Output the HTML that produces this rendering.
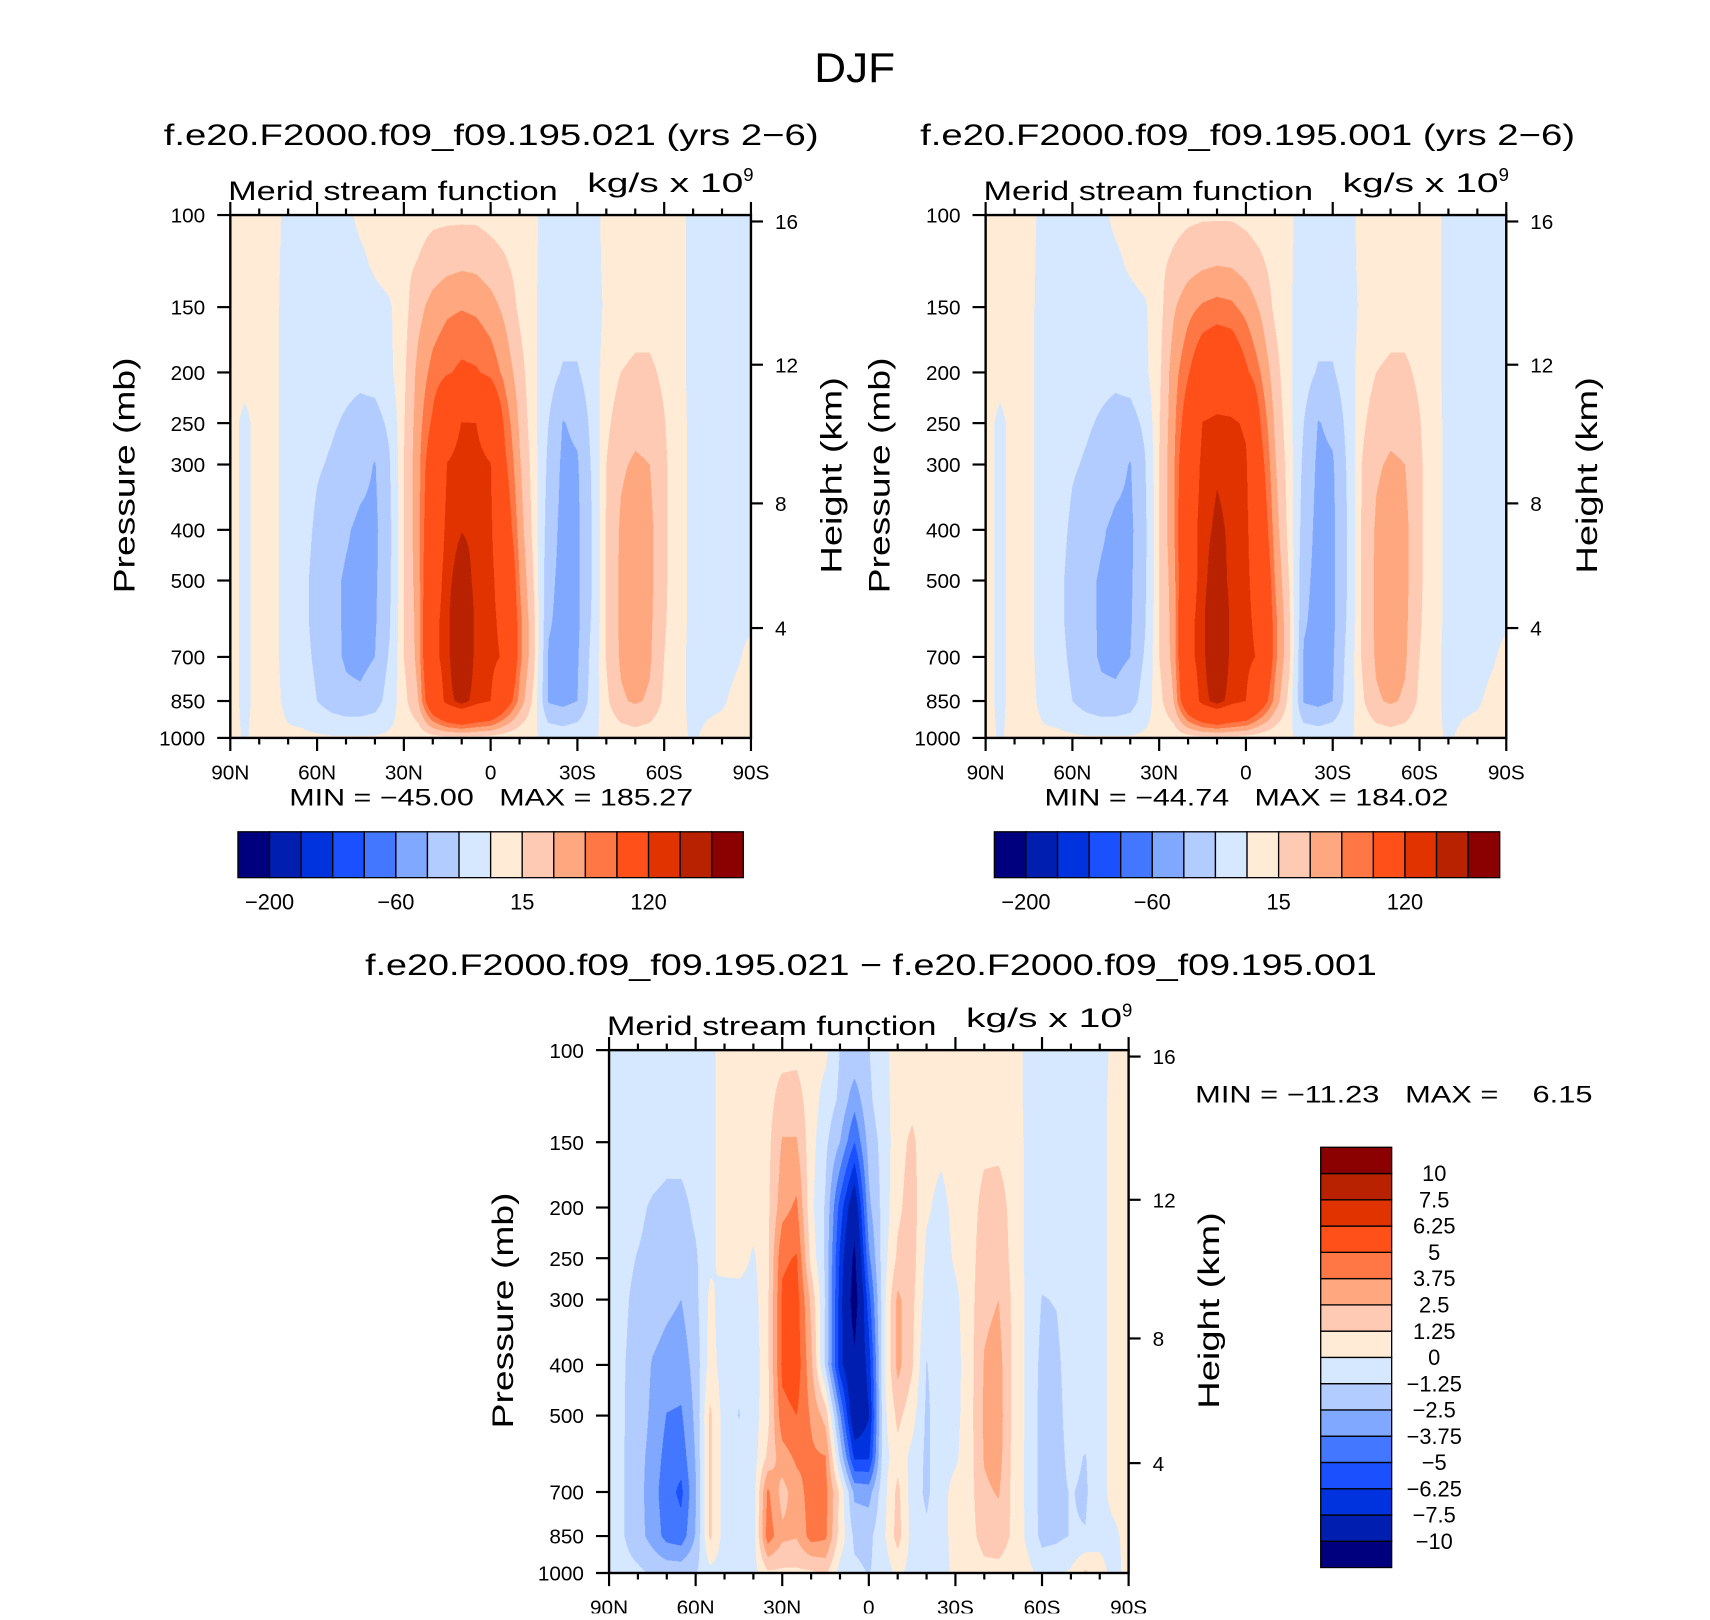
<!DOCTYPE html>
<html><head><meta charset="utf-8">
<style>
html,body{margin:0;padding:0;background:#fff;width:1710px;height:1620px;overflow:hidden}
#root{position:absolute;left:0;top:0;width:1560px;height:1478px;transform:scale(1.0915,1.0916);transform-origin:0 0}
canvas{position:absolute}
svg{position:absolute;left:0;top:0}
text{white-space:pre}
</style></head>
<body>
<div id="root">
<canvas id="c1" style="left:211px;top:197px;width:477px;height:479px" width="954" height="958"></canvas>
<canvas id="c2" style="left:903px;top:197px;width:477px;height:479px" width="954" height="958"></canvas>
<canvas id="c3" style="left:558px;top:962px;width:476px;height:479px" width="952" height="958"></canvas>
<svg id="svg" width="1560" height="1478" viewBox="0 0 1560 1478" font-family="Liberation Sans, DejaVu Sans, sans-serif"></svg>
</div>
<script>
// ---- data ----
const plev = [100,125,150,200,250,300,400,500,600,700,850,1000];
const lats = [90,85,80,75,70,65,60,55,50,45,40,35,30,25,20,15,10,5,0,-5,-10,-15,-20,-25,-30,-35,-40,-45,-50,-55,-60,-65,-70,-75,-80,-85,-90];
const colors = ['#00007f','#001fb0','#0033dd','#1a50ff','#4477ff','#80a8ff','#b3ccff','#d6e8ff','#ffebd6','#ffcab3','#ffa880','#ff7744','#ff5019','#e03300','#b82200','#8b0000'];
const levelsAbs = [-200,-160,-120,-80,-60,-40,-20,0,15,30,45,60,120,140,200];
const levelsDiff = [-10,-7.5,-6.25,-5,-3.75,-2.5,-1.25,0,1.25,2.5,3.75,5,6.25,7.5,10];
const cbLabelsAbs = ['\u2212200','\u221260','15','120'];
const cbLabelsDiff = ['\u221210','\u22127.5','\u22126.25','\u22125','\u22123.75','\u22122.5','\u22121.25','0','1.25','2.5','3.75','5','6.25','7.5','10'];
const pTickLabels = [100,150,200,250,300,400,500,700,850,1000];
const zTickLabels = [16,12,8,4];
const latTickLabels = ['90N','60N','30N','0','30S','60S','90S'];
const stats1 = ['\u221245.00','185.27'];
const stats2 = ['\u221244.74','184.02'];
const stats3 = ['\u221211.23','6.15'];

const field1 = [
[3,3,3,3,-3,-6,-6,-6,-3,3,5,6,8,10,12,12,12,12,10,8,5,2,-5,-6,-6,-4,3,4,5,5,4,3,-3,-3,-3,-3,-2],
[3,3,3,3,-4,-8,-8,-8,-6,-3,2,6,12,16,22,26,28,27,22,17,10,2,-6,-8,-8,-5,3,5,6,6,5,3,-3,-3,-3,-3,-2],
[3,3,3,3,-5,-10,-10,-10,-10,-8,-5,-2,10,25,36,42,44,42,36,26,12,2,-8,-10,-10,-8,3,6,8,8,6,3,-3,-3,-3,-3,-2],
[3,3,3,3,-5,-10,-12,-14,-15,-16,-12,-4,12,35,50,58,64,62,55,40,22,3,-12,-22,-22,-10,8,15,18,18,12,3,-3,-3,-3,-3,-2],
[3,-2,3,3,-5,-10,-15,-18,-22,-26,-28,-16,14,38,64,100,121,120,100,55,28,5,-20,-41,-36,-15,12,22,26,25,16,4,-3,-3,-3,-3,-2],
[3,-2,3,3,-5,-10,-18,-22,-28,-34,-41,-22,15,40,80,121,130,128,121,64,32,8,-25,-44,-42,-18,15,28,32,30,18,4,-3,-3,-3,-3,-2],
[3,-2,3,3,-5,-12,-24,-32,-38,-44,-44,-25,15,40,90,127,139,135,125,80,38,10,-30,-46,-44,-20,16,32,38,34,18,4,-3,-3,-3,-3,-2],
[3,-2,3,3,-5,-14,-28,-36,-42,-45,-43,-24,15,38,100,132,157,132,127,100,45,14,-35,-46,-44,-20,16,33,38,34,18,4,-3,-3,-3,-3,-2],
[3,-2,3,3,-5,-14,-28,-36,-42,-45,-42,-22,15,36,110,132,185,132,127,110,50,18,-38,-46,-44,-18,16,33,38,33,17,4,-3,-3,-3,-2,-1],
[3,-2,3,3,-5,-12,-25,-35,-42,-45,-40,-18,15,35,110,132,175,132,127,116,50,18,-42,-46,-42,-15,16,32,38,32,15,3,-3,-3,-3,-1,2],
[3,-2,3,3,-3,-8,-20,-30,-36,-36,-30,-10,10,30,90,130,150,130,120,80,40,10,-42,-46,-40,-12,12,28,32,28,12,3,-3,-2,-1,2,3],
[3,-1,3,3,2,3,3,2,2,2,2,3,3,5,8,10,10,10,8,5,3,2,-5,-8,-5,-2,3,6,8,6,3,2,-1,2,3,3,3]
];
const field2 = [
[3,3,3,3,-3,-6,-6,-6,-3,3,5,6,8,10,12,13,13,13,11,8,5,2,-5,-6,-6,-4,3,4,5,5,4,3,-3,-3,-3,-3,-2],
[3,3,3,3,-4,-8,-8,-8,-6,-3,2,6,12,18,24,28,30,29,24,18,10,2,-6,-8,-8,-5,3,5,6,6,5,3,-3,-3,-3,-3,-2],
[3,3,3,3,-5,-10,-10,-10,-10,-8,-5,-2,10,28,40,47,50,48,40,28,12,2,-8,-10,-10,-8,3,6,8,8,6,3,-3,-3,-3,-3,-2],
[3,3,3,3,-5,-10,-12,-14,-15,-16,-12,-4,12,38,58,80,88,84,64,45,22,3,-12,-22,-22,-10,8,15,18,18,12,3,-3,-3,-3,-3,-2],
[3,-2,3,3,-5,-10,-15,-18,-22,-26,-28,-16,14,40,76,121,127,125,116,60,28,5,-20,-41,-36,-15,12,22,26,25,16,4,-3,-3,-3,-3,-2],
[3,-2,3,3,-5,-10,-18,-22,-28,-34,-41,-22,15,42,90,127,137,133,124,70,32,8,-25,-44,-42,-18,15,28,32,30,18,4,-3,-3,-3,-3,-2],
[3,-2,3,3,-5,-12,-24,-32,-38,-44,-44,-25,15,42,100,132,145,136,127,84,38,10,-30,-46,-44,-20,16,32,38,34,18,4,-3,-3,-3,-3,-2],
[3,-2,3,3,-5,-14,-28,-36,-42,-44,-43,-24,15,38,100,132,157,132,127,100,45,14,-35,-46,-44,-20,16,33,38,34,18,4,-3,-3,-3,-3,-2],
[3,-2,3,3,-5,-14,-28,-36,-42,-44,-42,-22,15,36,110,132,184,132,127,110,50,18,-38,-46,-44,-18,16,33,38,33,17,4,-3,-3,-3,-2,-1],
[3,-2,3,3,-5,-12,-25,-35,-42,-44,-40,-18,15,35,110,132,175,132,127,116,50,18,-42,-46,-42,-15,16,32,38,32,15,3,-3,-3,-3,-1,2],
[3,-2,3,3,-3,-8,-20,-30,-36,-36,-30,-10,10,30,90,130,150,130,120,80,40,10,-42,-46,-40,-12,12,28,32,28,12,3,-3,-2,-1,2,3],
[3,-1,3,3,2,3,3,2,2,2,2,3,3,5,8,10,10,10,8,5,3,2,-5,-8,-5,-2,3,6,8,6,3,2,-1,2,3,3,3]
];
const field3 = [
[-0.5,-0.5,-0.5,-0.5,-0.5,-0.5,-0.5,-0.3,0.5,0.6,0.6,0.8,0.8,0.9,0.5,0.3,-1.3,-1.5,-1.3,-0.3,0.5,0.6,0.5,0.5,0.6,0.8,0.7,0.7,0.6,-0.3,-0.5,-0.5,-0.5,-0.5,-0.5,0.3,0.5],
[-0.5,-0.5,-0.5,-0.5,-0.5,-0.5,-0.5,-0.3,0.5,0.6,0.6,0.8,1.8,1.8,0.6,-0.5,-1.5,-3.3,-1.5,-0.5,0.6,0.9,0.6,0.5,0.6,0.8,0.8,0.8,0.6,-0.3,-0.5,-0.5,-0.5,-0.5,-0.5,0.5,0.5],
[-0.5,-0.5,-0.5,-0.6,-0.8,-0.8,-0.6,-0.3,0.5,0.6,0.6,0.9,2.6,2.6,0.5,-1.0,-2.5,-5.0,-2.0,-0.8,0.8,1.5,0.5,0.3,0.6,0.8,1.0,1.0,0.8,-0.3,-0.6,-0.5,-0.5,-0.5,-0.5,0.5,0.5],
[-0.6,-0.8,-1.0,-1.4,-1.6,-1.6,-1.0,-0.3,0.5,0.6,0.6,1.0,3.3,4.0,0.3,-1.4,-5.5,-9.0,-2.8,-0.8,1.0,1.8,0.2,-0.4,0.4,0.8,1.6,1.7,0.9,-0.3,-0.7,-0.6,-0.5,-0.5,-0.5,0.5,0.5],
[-0.8,-1.0,-1.3,-1.6,-1.8,-1.8,-1.4,-0.3,0.5,0.6,-0.2,1.0,4.8,5.1,0.8,-1.5,-6.5,-10.5,-4.0,-0.6,1.5,1.8,-0.3,-0.6,0.2,0.8,1.9,2.0,0.9,-0.3,-0.9,-0.7,-0.5,-0.5,-0.5,0.5,0.5],
[-0.8,-1.1,-1.5,-1.8,-2.2,-2.5,-1.6,0.3,-0.6,-0.6,-0.5,1.0,5.2,5.6,2.2,-1.4,-6.8,-11.2,-5.5,-0.5,2.8,1.6,-0.6,-0.6,-0.3,0.8,2.2,2.5,1.0,-0.3,-1.3,-1.2,-0.6,-0.5,-0.5,0.5,0.5],
[-0.8,-1.2,-1.6,-2.6,-3.0,-3.2,-2.0,0.5,-0.6,-1.0,-0.8,1.0,5.3,5.8,2.8,-1.5,-7.0,-9.5,-7.0,-0.4,2.9,1.4,-1.3,-0.6,-0.5,0.8,2.6,3.0,1.0,-0.3,-1.6,-1.5,-0.7,-0.6,-0.5,0.5,0.5],
[-0.8,-1.2,-1.7,-2.8,-3.8,-3.9,-2.2,1.5,-0.6,-1.3,-0.6,0.9,4.6,5.0,3.6,2.0,-3.5,-9.0,-7.6,-0.5,1.6,0.5,-1.5,-0.5,-0.4,0.8,2.7,3.1,1.0,-0.3,-1.7,-1.6,-0.8,-0.7,-0.5,0.5,0.5],
[-0.8,-1.2,-2.0,-3.0,-4.2,-4.5,-2.4,1.5,-0.6,-0.8,-0.6,1.5,3.2,4.0,4.0,3.8,-1.5,-6.5,-6.5,-0.6,0.8,-0.4,-1.5,-0.5,-0.2,0.8,2.6,3.0,0.9,-0.3,-1.7,-1.6,-1.0,-1.3,-0.5,0.5,0.5],
[-0.8,-1.2,-2.0,-3.2,-4.5,-5.3,-2.6,1.5,-0.6,-0.6,-0.6,4.0,2.0,3.2,4.3,4.2,1.0,-2.8,-3.0,-0.5,1.6,-0.6,-1.5,-0.4,0.4,0.8,2.3,2.6,0.9,-0.3,-1.7,-1.5,-1.2,-1.4,-0.5,0.5,0.5],
[-0.8,-1.2,-2.0,-3.0,-4.2,-4.5,-2.4,1.5,-0.6,-0.6,-0.6,4.5,2.8,2.6,4.3,4.0,0.8,-1.5,-1.6,-0.3,1.8,-0.5,-1.0,-0.6,0.6,0.8,1.8,2.0,1.0,-0.3,-1.6,-1.5,-1.2,-1.2,-0.4,-0.3,0.5],
[-0.5,-0.8,-1.0,-1.4,-1.6,-1.6,-1.3,-0.4,-0.5,-0.5,-0.5,1.0,1.0,1.0,1.0,1.5,-0.5,-1.0,-1.3,-0.8,0.3,-0.5,-0.5,-0.5,0.3,0.3,0.8,0.8,0.5,0.4,-0.5,-0.3,0.2,1.5,0.5,-0.5,0.5]
];

// ---- scales ----
const LOGTOP = Math.log10(plev[0]), LOGBOT = Math.log10(plev[plev.length-1]);
function yOfP(p, by, h){ return by + (Math.log10(p)-LOGTOP)/(LOGBOT-LOGTOP)*h; }
function xOfLat(lat, bx, w){ return bx + (lats[0]-lat)/(lats[0]-lats[lats.length-1])*w; }
function pOfZ(zkm){ const z=zkm*1000; return z<11000 ? 1013.25*Math.pow(1-2.25577e-5*z,5.25588) : 226.32*Math.exp(-(z-11000)/6341.6); }
function colorIndex(v, levels){ let k=0; for(const l of levels){ if(v>=l) k++; } return k; }
const logP = plev.map(p=>Math.log10(p));
function sampleField(F, latv, lp){
  const fi = (lats[0]-latv)/5; let i=Math.min(Math.floor(fi), lats.length-2); const t=fi-i;
  let k=0; while(k<plev.length-2 && lp>logP[k+1]) k++;
  const s=(lp-logP[k])/(logP[k+1]-logP[k]);
  const a=F[k][i]*(1-t)+F[k][i+1]*t, b=F[k+1][i]*(1-t)+F[k+1][i+1]*t;
  return a*(1-s)+b*s;
}
function hex(c){ return [parseInt(c.substr(1,2),16),parseInt(c.substr(3,2),16),parseInt(c.substr(5,2),16)]; }
const rgb = colors.map(hex);
function drawField(id, F, levels){
  const cv=document.getElementById(id), ctx=cv.getContext('2d');
  const W=cv.width, H=cv.height, img=ctx.createImageData(W,H);
  for(let py=0;py<H;py++){
    const lp = LOGTOP + (py+0.5)/H*(LOGBOT-LOGTOP);
    for(let px=0;px<W;px++){
      const latv = lats[0] - (px+0.5)/W*(lats[0]-lats[lats.length-1]);
      const c = rgb[colorIndex(sampleField(F,latv,lp),levels)];
      const o=(py*W+px)*4; img.data[o]=c[0]; img.data[o+1]=c[1]; img.data[o+2]=c[2]; img.data[o+3]=255;
    }
  }
  ctx.putImageData(img,0,0);
}
drawField('c1', field1, levelsAbs);
drawField('c2', field2, levelsAbs);
drawField('c3', field3, levelsDiff);

// ---- svg annotations ----
const NS='http://www.w3.org/2000/svg', svg=document.getElementById('svg');
function mk(tag, attrs){ const e=document.createElementNS(NS,tag); for(const k in attrs) e.setAttribute(k,attrs[k]); svg.appendChild(e); return e; }
function txt(s, attrs){ const e=mk('text', attrs); e.textContent=s; return e; }
function line(x1,y1,x2,y2,sw){ return mk('line',{x1:x1,y1:y1,x2:x2,y2:y2,stroke:'#000','stroke-width':sw||2}); }

let el = txt('DJF',{x:783,y:75,'font-size':38,'text-anchor':'middle',textLength:74,lengthAdjust:'spacingAndGlyphs'});



function panel(bx, by, w, h, name, title, titleX, titleY, titleLen){
  let e;
  e = txt(title,{x:titleX,y:titleY,'font-size':27,'text-anchor':'middle',textLength:titleLen,lengthAdjust:'spacingAndGlyphs'});
  
  
  e = txt('Merid stream function',{x:bx-2,y:by-14,'font-size':25,textLength:302,lengthAdjust:'spacingAndGlyphs'});
  
  
  e = txt('kg/s x 10',{x:bx+327,y:by-21,'font-size':25,textLength:143,lengthAdjust:'spacingAndGlyphs'});
  
  
  e = txt('9',{x:bx+470,y:by-31,'font-size':17});
  
  
  e = mk('rect',{x:bx,y:by,width:w,height:h,fill:'none',stroke:'#000','stroke-width':2.2});
  
  
  for(let lat=90; lat>=-90; lat-=10){
    const x=xOfLat(lat,bx,w), len=(lat%30===0)?12:6;
    e=line(x,by+h,x,by+h+len,2);
    
    
    e=line(x,by,x,by-len,2);
    
    
  }
  latTickLabels.forEach((s,i)=>{
    const x=bx+i*w/(latTickLabels.length-1);
    const t=txt(s,{x:x,y:by+h+38,'font-size':19,'text-anchor':'middle'});
    
    
  });
  pTickLabels.forEach(p=>{
    const y=yOfP(p,by,h);
    const tk=line(bx-12,y,bx,y,2);
    
    
    const t=txt(String(p),{x:bx-23,y:y+7,'font-size':19,'text-anchor':'end'});
    
    
  });
  zTickLabels.forEach(z=>{
    const y=yOfP(pOfZ(z),by,h);
    const tk=line(bx+w,y,bx+w+11,y,2);
    
    
    const t=txt(String(z),{x:bx+w+22,y:y+7,'font-size':19});
    
    
  });
  e = txt('Pressure (mb)',{x:0,y:0,'font-size':27,'text-anchor':'middle',textLength:216,lengthAdjust:'spacingAndGlyphs',transform:'translate('+(bx-88)+','+(by+h/2-1)+') rotate(-90)'});
  
  
  e = txt('Height (km)',{x:0,y:0,'font-size':27,'text-anchor':'middle',textLength:180,lengthAdjust:'spacingAndGlyphs',transform:'translate('+(bx+w+83)+','+(by+h/2-1)+') rotate(-90)'});
  
  
}

function hColorbar(x0, y0, w, h, name, stats, sx){
  const n=colors.length, bw=w/n;
  colors.forEach((c,i)=>{
    const r=mk('rect',{x:x0+i*bw,y:y0,width:bw,height:h,fill:c,stroke:'#000','stroke-width':1.2});
    
    
  });
  cbLabelsAbs.forEach((s,i)=>{
    const t=txt(s,{x:x0+(1+4*i)*bw,y:y0+h+29,'font-size':20,'text-anchor':'middle'});
    
    
  });
  const m=txt('MIN = '+stats[0]+'   MAX = '+stats[1],{x:sx,y:y0-24,'font-size':22,'text-anchor':'middle',textLength:370,lengthAdjust:'spacingAndGlyphs'});
  
  
}

panel(211,197,477,479,'panel1','f.e20.F2000.f09_f09.195.021 (yrs 2\u22126)',450,133,600);
panel(903,197,477,479,'panel2','f.e20.F2000.f09_f09.195.001 (yrs 2\u22126)',1143,133,600);
panel(558,962,476,479,'diff','f.e20.F2000.f09_f09.195.021 \u2212 f.e20.F2000.f09_f09.195.001',798,893,927);
hColorbar(218,762,463,42,'panel1',stats1,450);
hColorbar(911,762,463,42,'panel2',stats2,1142);

// vertical colorbar for difference
(function(){
  const x0=1210, y0=1051, w=65, h=385, n=colors.length, bh=h/n;
  colors.forEach((c,i)=>{
    const r=mk('rect',{x:x0,y:y0+(n-1-i)*bh,width:w,height:bh,fill:c,stroke:'#000','stroke-width':1.2});
    
    
  });
  cbLabelsDiff.forEach((s,i)=>{
    const t=txt(s,{x:1314,y:y0+(n-1-i)*bh+7,'font-size':20,'text-anchor':'middle'});
    
    
  });
  const m=txt('MIN = '+stats3[0]+'   MAX =    '+stats3[1],{x:1095,y:1010,'font-size':22,textLength:364,lengthAdjust:'spacingAndGlyphs'});
  
  
})();
</script>
</body></html>
